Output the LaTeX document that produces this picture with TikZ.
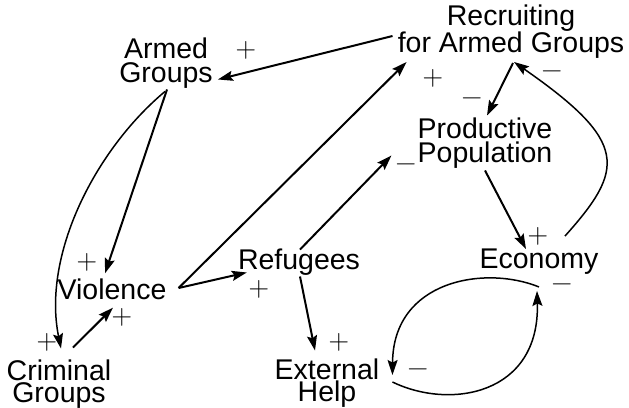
\documentclass[tikz,border=0pt]{standalone}
\usepackage{fontspec}
\setmainfont{Liberation Sans}
\newfontfamily\signfont{Latin Modern Roman}
\usetikzlibrary{arrows.meta,calc}

\begin{document}
\begin{tikzpicture}[x=1pt,y=-1pt,
  var/.style={inner sep=0pt, align=center, font=\fontsize{28.5}{24}\selectfont},
  sign/.style={inner sep=0pt, font=\signfont\fontsize{28.5}{30}\selectfont},
  link/.style={line width=2pt, -{Stealth[length=15pt,width=10pt,inset=2.5pt]}},
  curvelink/.style={line width=1.5pt, -{Stealth[length=15pt,width=10pt,inset=2.5pt]}}]
\useasboundingbox (0,0) rectangle (629,407);

% variables
\node[var] (armed) at (166,63) {Armed\\Groups};
\node[var, font=\fontsize{28.5}{27}\selectfont] (recruit) at (511,32) {Recruiting\\for Armed Groups};
\node[var] (prod) at (485,143) {Productive\\Population};
\node[var] (econ) at (539,262) {Economy};
\node[var] (refug) at (299,262) {Refugees};
\node[var] (viol) at (112,289) {Violence};
\node[var, font=\fontsize{28.5}{22}\selectfont] (crim) at (59,384) {Criminal\\Groups};
\node[var, font=\fontsize{28.5}{22}\selectfont] (ext) at (327,383) {External\\Help};

% straight links
\draw[link] ($(recruit.west)+(-5,4)$) -- ($(armed.south east)+(5,-9)$);
\draw[link] ($(armed.south)+(1,1)$) -- ($(viol.north)+(-7,-5)$);
\draw[link] ($(crim.north)+(14,-12)$) -- ($(viol.south)+(1,8)$);
\draw[link] ($(viol.east)+(12,-1)$) -- ($(refug.south west)+(9,-3)$);
\draw[link] ($(viol.east)+(12,-1)$) -- ($(recruit.south west)+(9,3)$);
\draw[link] ($(refug.north)+(1,1)$) -- ($(prod.south west)+(-26,-13)$);
\draw[link] ($(refug.south)+(1,1)$) -- ($(ext.north)+(-12,-8)$);
\draw[link] ($(recruit.south)+(2,4)$) -- ($(prod.north)+(2,-2)$);
\draw[link] ($(prod.south)+(0,2)$) -- ($(econ.north)+(-13,0)$);

% curved links
\draw[curvelink] ($(armed.south)+(-1,3)$) .. controls (95,150) and (42,255) .. ($(crim.north)+(2,-11)$);
\draw[curvelink] ($(econ.north)+(26,-13)$) .. controls (625,169) and (629,142) .. ($(recruit.south)+(3,3)$);
\draw[curvelink] ($(econ.south)+(0,12)$) .. controls (485,265) and (393,280) .. ($(ext.east)+(13,-8)$);
\draw[curvelink] ($(ext.east)+(13,-1)$) .. controls (450,410) and (540,395) .. ($(econ.south)+(-2,16)$);

% polarities
\node[sign] (s1) at (246,50) {+};
\node[sign] (s2) at (87,262) {+};
\node[sign] (s3) at (47,342) {+};
\node[sign] (s4) at (122,317) {+};
\node[sign] (s5) at (259,289) {+};
\node[sign] (s6) at (433,78) {+};
\node[sign] (s7) at (406,168) {−};
\node[sign] (s8) at (339,342) {+};
\node[sign] (s9) at (472,102) {−};
\node[sign] (s10) at (538,236) {+};
\node[sign] (s11) at (552,75) {−};
\node[sign] (s12) at (418,373) {−};
\node[sign] (s13) at (562,288) {−};
\end{tikzpicture}
\end{document}
